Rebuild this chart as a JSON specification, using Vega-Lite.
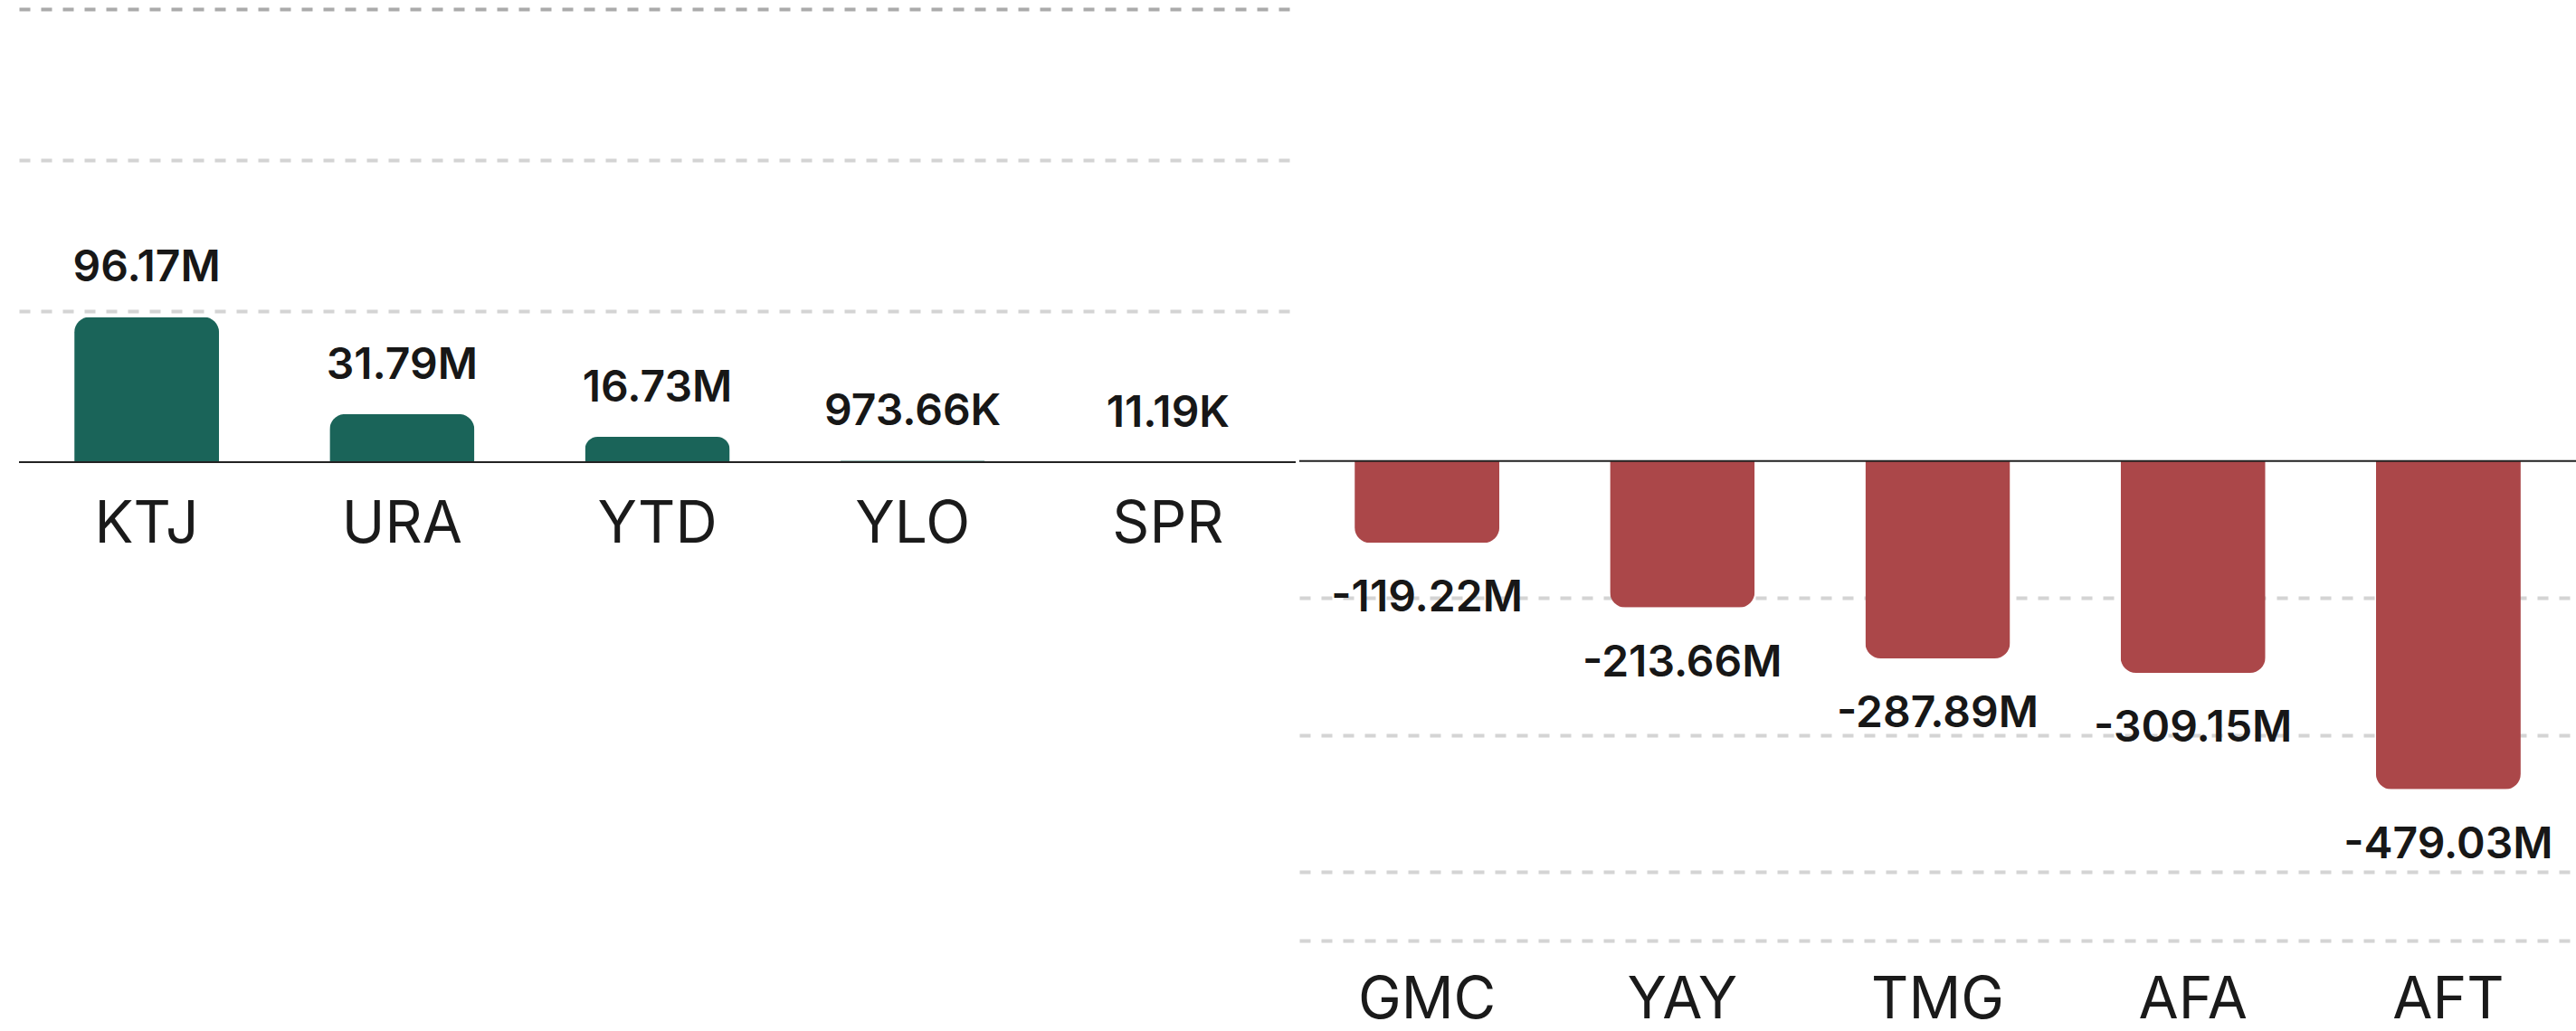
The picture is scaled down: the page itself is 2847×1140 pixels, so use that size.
{
  "$schema": "https://vega.github.io/schema/vega-lite/v6.json",
  "padding": {"left": 20, "top": 10, "right": 0, "bottom": 0},
  "background": "white",
  "spacing": 2,
  "config": {
    "view": {"stroke": null},
    "font": "Inter",
    "axisX": {"title": null, "labelAngle": 0, "labelFontSize": 64, "labelFont": "Inter", "labelFontWeight": 400, "labelColor": "#1a1a1a", "ticks": false, "tickSize": 0, "domain": false, "labelPadding": 37, "grid": false},
    "axisY": {"title": null, "labels": false, "ticks": false, "tickSize": 0, "domain": false, "grid": true, "gridDash": [12, 12], "gridWidth": 4, "minExtent": 0, "maxExtent": 0}
  },
  "datasets": {
    "pos": [
      {"ticker": "KTJ", "value": 96170000, "label": "96.17M"},
      {"ticker": "URA", "value": 31790000, "label": "31.79M"},
      {"ticker": "YTD", "value": 16730000, "label": "16.73M"},
      {"ticker": "YLO", "value": 973660, "label": "973.66K"},
      {"ticker": "SPR", "value": 11190, "label": "11.19K"}
    ],
    "neg": [
      {"ticker": "GMC", "value": -119220000, "label": "-119.22M"},
      {"ticker": "YAY", "value": -213660000, "label": "-213.66M"},
      {"ticker": "TMG", "value": -287890000, "label": "-287.89M"},
      {"ticker": "AFA", "value": -309150000, "label": "-309.15M"},
      {"ticker": "AFT", "value": -479030000, "label": "-479.03M"}
    ]
  },
  "hconcat": [
    {
      "width": 1411,
      "height": 501,
      "layer": [
        {
          "data": {"name": "pos"},
          "mark": {"type": "bar", "color": "#1a6459", "cornerRadiusTopLeft": 17, "cornerRadiusTopRight": 17},
          "encoding": {
            "x": {"field": "ticker", "type": "nominal", "sort": null, "scale": {"paddingInner": 0.433, "paddingOuter": 0.2165}},
            "y": {"field": "value", "type": "quantitative", "scale": {"domain": [0, 300000000], "nice": false},
              "axis": {"values": [100000000, 200000000, 300000000],
                "gridColor": {"condition": {"test": "datum.value === 300000000", "value": "#aaaaaa"}, "value": "#d4d4d4"}}}
          }
        },
        {
          "data": {"name": "pos"},
          "mark": {"type": "text", "baseline": "alphabetic", "dy": -39, "fontSize": 48, "fontWeight": 600, "font": "Inter", "color": "#171717"},
          "encoding": {
            "x": {"field": "ticker", "type": "nominal", "sort": null},
            "y": {"field": "value", "type": "quantitative"},
            "text": {"field": "label"}
          }
        },
        {
          "data": {"values": [{}]},
          "mark": {"type": "rule", "color": "#222222", "strokeWidth": 2},
          "encoding": {"y": {"datum": 0}}
        }
      ]
    },
    {
      "width": 1411,
      "height": 1030,
      "layer": [
        {
          "data": {"name": "neg"},
          "mark": {"type": "bar", "color": "#ab4749", "cornerRadiusBottomLeft": 17, "cornerRadiusBottomRight": 17},
          "encoding": {
            "x": {"field": "ticker", "type": "nominal", "sort": null, "scale": {"paddingInner": 0.433, "paddingOuter": 0.2165}, "axis": {"labelPadding": 34}},
            "y": {"field": "value", "type": "quantitative", "scale": {"domain": [-700000000, 660000000], "nice": false},
              "axis": {"values": [-700000000, -600000000, -400000000, -200000000], "gridColor": "#d4d4d4"}}
          }
        },
        {
          "data": {"name": "neg"},
          "mark": {"type": "text", "baseline": "top", "dy": 38, "fontSize": 48, "fontWeight": 600, "font": "Inter", "color": "#171717"},
          "encoding": {
            "x": {"field": "ticker", "type": "nominal", "sort": null},
            "y": {"field": "value", "type": "quantitative"},
            "text": {"field": "label"}
          }
        },
        {
          "data": {"values": [{}]},
          "mark": {"type": "rule", "color": "#222222", "strokeWidth": 2},
          "encoding": {"y": {"datum": 0}}
        }
      ]
    }
  ]
}
